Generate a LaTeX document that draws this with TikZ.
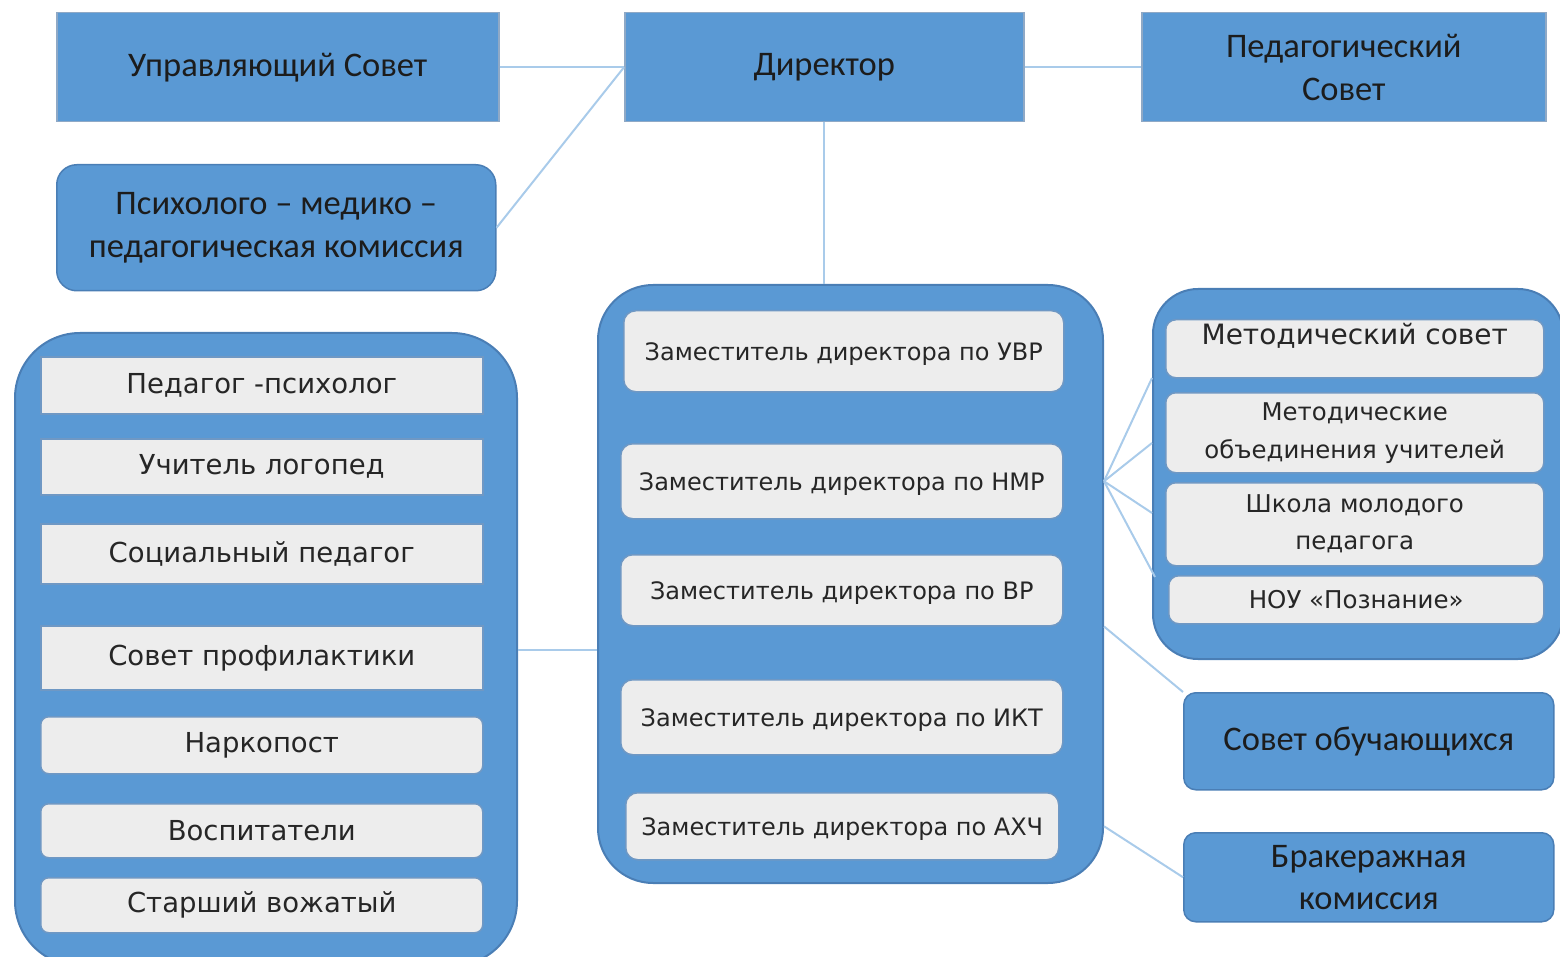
\documentclass[tikz,border=0pt]{standalone}
\usepackage{fontspec}
\setmainfont{Carlito}
\newfontfamily\dv{DejaVu Sans}
\definecolor{cBlue}{HTML}{5A99D4}
\definecolor{cBorder}{HTML}{4A7EB5}
\definecolor{cTopB}{HTML}{8FA9C6}
\definecolor{cGrey}{HTML}{EDEDED}
\definecolor{cGreyB}{HTML}{6F98C4}
\definecolor{cLink}{HTML}{A9CBEA}
\definecolor{cText}{HTML}{1C1C1C}
\definecolor{cText2}{HTML}{262626}
\newcommand\bx[7][]{\node[#1, anchor=north west, minimum width={#5-#3}, minimum height={#6-#4}] (#2) at (#3,#4) {#7};}
\tikzset{
  bluebox/.style={fill=cBlue, draw=cTopB, line width=1.5pt, text=cText, align=center, inner sep=1pt,
    font=\fontsize{34.5}{43}\selectfont},
  cont/.style={fill=cBlue, draw=cBorder, line width=2pt},
  greybox/.style={fill=cGrey, draw=cGreyB, line width=1.5pt, text=cText2, align=center, inner sep=1pt},
  link/.style={draw=cLink, line width=2pt}
}
\begin{document}
\begin{tikzpicture}[x=1pt,y=-1pt]
\useasboundingbox (0,0) rectangle (1560,957);
% top boxes
\bx[bluebox]{upr}{56}{12}{498}{121}{Управляющий Совет}
\bx[bluebox]{dir}{624}{12}{1023}{121}{Директор}
\bx[bluebox]{ped}{1141}{12}{1545}{121}{Педагогический\\Совет}
\bx[bluebox, rounded corners=20pt, draw=cBorder]{pmpk}{56}{164}{495}{290}{\raisebox{-6pt}{Психолого – медико –}\\\raisebox{-6pt}{педагогическая комиссия}}
% containers
\bx[cont, rounded corners=65pt]{lc}{14}{332}{516}{965}{}
\bx[cont, rounded corners=55pt]{mc}{597}{284}{1102}{882}{}
\bx[cont, rounded corners=45pt]{rc}{1152}{288}{1562}{658}{}
% left column
\tikzset{lft/.style={greybox, font=\dv\fontsize{27.5}{32}\selectfont}}
\bx[lft]{l1}{40}{356}{482}{413}{Педагог -психолог}
\bx[lft]{l2}{40}{438}{482}{494}{Учитель логопед}
\bx[lft]{l3}{40}{523}{482}{583}{Социальный педагог}
\bx[lft]{l4}{40}{625}{482}{689}{Совет профилактики}
\bx[lft, rounded corners=8pt]{l5}{40}{716}{482}{773}{Наркопост}
\bx[lft, rounded corners=8pt]{l6}{40}{803}{482}{857}{Воспитатели}
\bx[lft, rounded corners=8pt]{l7}{40}{877}{482}{932}{Старший вожатый}
% middle column
\tikzset{mid/.style={greybox, rounded corners=12pt, font=\dv\fontsize{24}{28}\selectfont, text height=24pt}}
\bx[mid]{m1}{623}{310}{1063}{391}{Заместитель директора  по УВР}
\bx[mid]{m2}{620}{443}{1062}{518}{Заместитель директора  по НМР}
\bx[mid]{m3}{620}{554}{1062}{625}{Заместитель директора  по ВР}
\bx[mid]{m4}{620}{679}{1062}{754}{Заместитель директора  по ИКТ}
\bx[mid]{m5}{625}{792}{1058}{859}{Заместитель директора  по АХЧ}
% right column
\tikzset{rgt/.style={greybox, rounded corners=10pt}}
\bx[rgt, font=\dv\fontsize{28}{32}\selectfont, text depth=30pt]{r1}{1165}{319}{1543}{377}{Методический совет}
\bx[rgt, font=\dv\fontsize{24.4}{38}\selectfont]{r2}{1165}{392}{1543}{472}{Методические\\объединения  учителей}
\bx[rgt, font=\dv\fontsize{24.5}{37}\selectfont]{r3}{1165}{482}{1543}{565}{Школа молодого\\педагога}
\bx[rgt, font=\dv\fontsize{24.5}{28}\selectfont]{r4}{1168}{575}{1543}{623}{НОУ «Познание»}
% right blue boxes
\bx[bluebox, rounded corners=12pt, draw=cBorder]{sovob}{1183}{692}{1553}{789}{Совет обучающихся}
\bx[bluebox, rounded corners=12pt, draw=cBorder, font=\fontsize{34.5}{42}\selectfont]{brak}{1183}{832}{1553}{921}{\raisebox{-7pt}{Бракеражная}\\\raisebox{-7pt}{комиссия}}
% fan coordinates on the right container
\coordinate (f1) at (rc.west |- 0,378);
\coordinate (f2) at (rc.west |- 0,443);
\coordinate (f3) at (rc.west |- 0,513);
\coordinate (f4) at (1155,577);
% connectors
\draw[link] (upr.east) -- (dir.west);
\draw[link] (pmpk.east) -- (dir.west);
\draw[link] (dir.east) -- (ped.west);
\draw[link] (dir.south) -- (dir.south |- mc.north);
\draw[link] (lc.east) -- (mc.west |- lc.east);
\foreach \f in {f1,f2,f3,f4}{\draw[link] (mc.east |- m2) -- (\f);}
\draw[link] (mc.east |- m3.south) -- (sovob.north west);
\draw[link] (mc.east |- m5) -- (brak.west);
\end{tikzpicture}
\end{document}
